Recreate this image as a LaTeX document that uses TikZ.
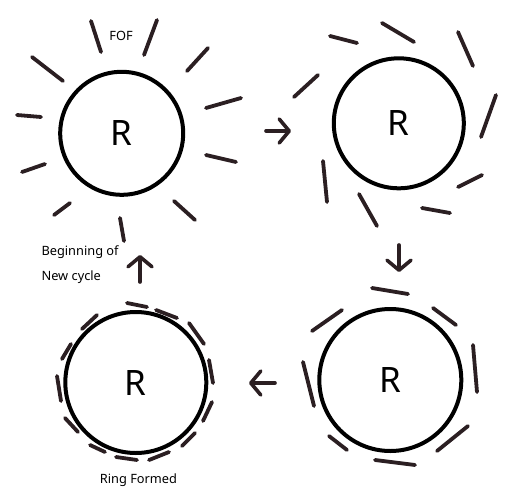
\documentclass[tikz,border=0pt]{standalone}
\usepackage{fontspec}
\setmainfont{Noto Sans}
\usetikzlibrary{arrows.meta}
\definecolor{ink}{HTML}{2B1F22}
\tikzset{ring/.style={circle, draw=black, line width=4pt, inner sep=0pt, font=\fontsize{35}{35}\selectfont}, fof/.style={draw=ink, line width=3.8pt, line cap=round}, flow/.style={-{Straight Barb[length=10pt,width=24pt,round]}, draw=ink, line width=3.6pt, line cap=round}, lab/.style={font=\fontsize{12.8}{12.8}\selectfont, text=black}}
\begin{document}
\begin{tikzpicture}[x=1pt,y=-1pt]
\useasboundingbox (0,0) rectangle (521,500);
% the four stages
\node[ring, minimum size=123pt] (free) at (121.7,133.3) {R};
\node[ring, minimum size=130pt] (swirl) at (398.8,123.3) {R};
\node[ring, minimum size=142pt] (near) at (390.3,380) {R};
\node[ring, minimum size=141pt] (ringed) at (135.8,382.5) {R};
% FOF around each R
\draw[fof] (91,21)--(101,52) (157,20)--(144,55) (32,57)--(63,81) (208,48)--(187,71) (17,115)--(41,117) (206,108)--(241,98) (22,172)--(45,164) (206,155)--(236,162) (54,215)--(70,203) (174,201)--(195,220) (120,218)--(124,241);
\draw[fof] (330,36)--(357,43) (382,23)--(414,42) (458,32)--(473,66) (318,75)--(294,97) (496,95)--(481,137) (323,161)--(327,202) (482,175)--(458,187) (359,194)--(377,226) (422,208)--(450,213);
\draw[fof] (372,288)--(408,294) (342,310)--(312,331) (433,308)--(456,325) (303,362)--(314,406) (473,345)--(477,392) (329,436)--(347,450) (468,426)--(437,451) (375,460)--(415,465);
\draw[fof] (127,303)--(147,307) (156,310)--(177,318) (82,329)--(97,315) (189,323)--(204,344) (62,359)--(71,344) (209,360)--(213,383) (57,376)--(61,401) (212,402)--(203,421) (65,418)--(78,432) (195,433)--(182,446) (90,445)--(105,452) (116,457)--(137,460) (149,460)--(169,452);
% arrows between stages
\coordinate (s1) at (266,131); \coordinate (e1) at (291,131);
\coordinate (s2) at (399,245); \coordinate (e2) at (399,272);
\coordinate (s3) at (275,383); \coordinate (e3) at (249,383);
\coordinate (s4) at (140,282); \coordinate (e4) at (140,255);
\draw[flow] (s1)--(e1); \draw[flow] (s2)--(e2); \draw[flow] (s3)--(e3); \draw[flow] (s4)--(e4);
\node[lab] (foflab) at (121,35.5) {FOF};
\node[lab, anchor=base west] (begin) at (38,255) {Beginning of};
\node[lab, anchor=base west] (newc) at (38,280) {New cycle};
\node[lab, anchor=base] (formed) at (138.5,483) {Ring Formed};
\end{tikzpicture}
\end{document}
